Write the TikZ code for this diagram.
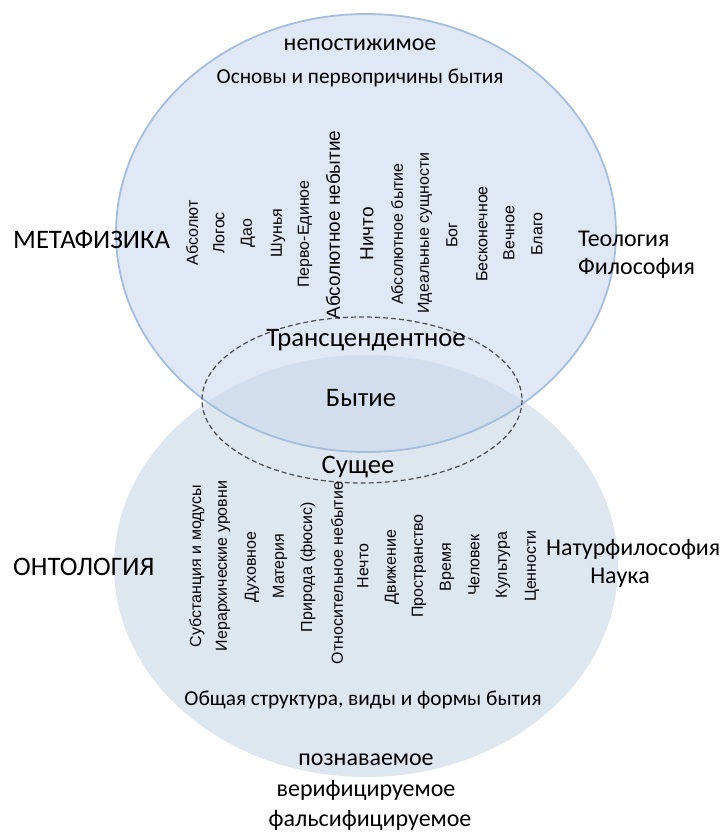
\documentclass[tikz,border=0pt]{standalone}
\usepackage{fontspec}
\setmainfont{Carlito}
\newfontfamily\arialf{Liberation Sans}
\begin{document}
\begin{tikzpicture}[x=1pt,y=-1pt,
  lbl/.style={inner sep=0pt,font=\fontsize{#1}{#1}\selectfont},
  vt/.style={inner sep=0pt,rotate=90,font=\arialf\fontsize{#1}{#1}\selectfont}]
\useasboundingbox (0,0) rectangle (726,834);
\definecolor{topfill}{HTML}{DFE8F4}
\definecolor{botfill}{HTML}{DEE6F0}
\definecolor{lensfill}{HTML}{D2DEEE}
\definecolor{edge}{HTML}{A6BEDB}
% circles
\fill[botfill] (366,566) ellipse [x radius=252, y radius=211];
\fill[topfill] (366,233) ellipse [x radius=250, y radius=219];
\begin{scope}
  \clip (366,566) ellipse [x radius=252, y radius=211];
  \fill[lensfill] (366,233) ellipse [x radius=250, y radius=219];
\end{scope}
\draw[edge,line width=1.8pt] (366,233) ellipse [x radius=250, y radius=219];
\draw[black!70,line width=1.2pt,dash pattern=on 5pt off 3pt] (362,400) ellipse [x radius=160, y radius=83];
% main labels
\node[lbl=24] (nep) at (360,45) {непостижимое};
\node[lbl=21.3] (osn) at (360,78) {Основы и первопричины бытия};
\node[lbl=26.7,anchor=west] (meta) at (13,240) {МЕТАФИЗИКА};
\node[lbl=24,anchor=west] (teo) at (578,239) {Теология};
\node[lbl=24,anchor=west] (fil) at (578,268) {Философия};
\node[lbl=26.7] (trans) at (366,340) {Трансцендентное};
\node[lbl=26.7] (byt) at (361,398) {Бытие};
\node[lbl=26.7] (sus) at (358,467) {Сущее};
\node[lbl=26.7,anchor=west] (onto) at (13,567) {ОНТОЛОГИЯ};
\node[lbl=24,anchor=west] (nat) at (546,549) {Натурфилософия};
\node[lbl=24] (nau) at (620,578) {Наука};
\node[lbl=21.3] (obs) at (363,700) {Общая структура, виды и формы бытия};
\node[lbl=24] (poz) at (366,760) {познаваемое};
\node[lbl=24] (ver) at (366,790) {верифицируемое};
\node[lbl=24] (fal) at (370,820) {фальсифицируемое};
% top vertical labels
\node[vt=16] (t1) at (192,233) {Абсолют};
\node[vt=16] (t2) at (219,233) {Логос};
\node[vt=16] (t3) at (248,233) {Дао};
\node[vt=16] (t4) at (278,233) {Шунья};
\node[vt=16] (t5) at (305,234) {Перво-Единое};
\node[vt=19] (t6) at (333,225) {Абсолютное небытие};
\node[vt=19] (t7) at (367,234) {Ничто};
\node[vt=16] (t8) at (397,234) {Абсолютное бытие};
\node[vt=16] (t9) at (425,233) {Идеальные сущности};
\node[vt=16] (t10) at (452,235) {Бог};
\node[vt=16] (t11) at (482,234) {Бесконечное};
\node[vt=16] (t12) at (509,233) {Вечное};
\node[vt=16] (t13) at (537,234) {Благо};
% bottom vertical labels
\node[vt=16] (b1) at (197,566) {Субстанция и модусы};
\node[vt=16] (b2) at (223,566) {Иерархические уровни};
\node[vt=16] (b3) at (252,567) {Духовное};
\node[vt=16] (b4) at (280,566) {Материя};
\node[vt=16] (b5) at (308,567) {Природа (фюсис)};
\node[vt=16] (b6) at (337,573) {Относительное небытие};
\node[vt=16] (b7) at (363,566) {Нечто};
\node[vt=16] (b8) at (392,567) {Движение};
\node[vt=16] (b9) at (419,566) {Пространство};
\node[vt=16] (b10) at (447,567) {Время};
\node[vt=16] (b11) at (474,565) {Человек};
\node[vt=16] (b12) at (503,565) {Культура};
\node[vt=16] (b13) at (532,566) {Ценности};
\end{tikzpicture}
\end{document}
